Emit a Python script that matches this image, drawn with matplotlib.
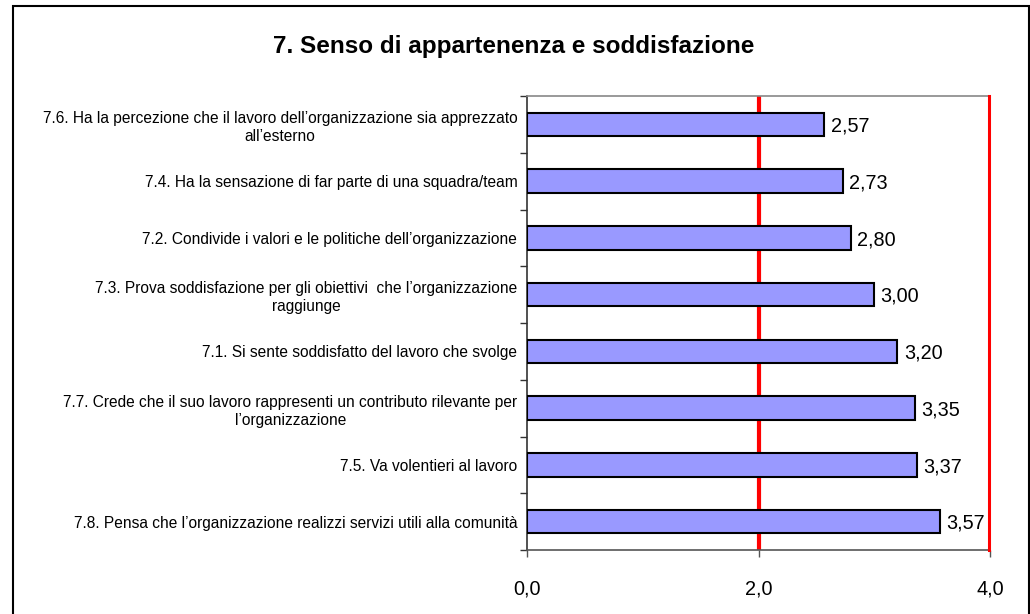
import matplotlib
matplotlib.use("Agg")
import matplotlib.pyplot as plt
from matplotlib.patches import Rectangle
import numpy as np

plt.rcParams['font.family'] = ['Liberation Sans', 'DejaVu Sans']

title = "7. Senso di appartenenza e soddisfazione"
categories = [
    "7.6. Ha la percezione che il lavoro dell’organizzazione sia apprezzato\nall’esterno",
    "7.4. Ha la sensazione di far parte di una squadra/team",
    "7.2. Condivide i valori e le politiche dell’organizzazione",
    "7.3. Prova soddisfazione per gli obiettivi  che l’organizzazione\nraggiunge",
    "7.1. Si sente soddisfatto del lavoro che svolge",
    "7.7. Crede che il suo lavoro rappresenti un contributo rilevante per\nl’organizzazione",
    "7.5. Va volentieri al lavoro",
    "7.8. Pensa che l’organizzazione realizzi servizi utili alla comunità",
]
values = [2.57, 2.73, 2.80, 3.00, 3.20, 3.35, 3.37, 3.57]
xticks = [0.0, 2.0, 4.0]
xtick_labels = ["0,0", "2,0", "4,0"]
ref_lines = [2.0, 4.0]

fig = plt.figure(figsize=(10.30, 6.14), dpi=100)
ax = fig.add_axes([527/1030, 1-550/614, (990-527)/1030, (550-96)/614])

n = len(categories)
y = np.arange(n)
ax.barh(y, values, height=0.41, color='#9999FF', edgecolor='black', linewidth=1.5, zorder=3)
ax.set_ylim(n - 0.5, -0.5)
ax.set_xlim(0, 4)

ax.axvline(ref_lines[0], color='#FF0000', lw=3, zorder=2)
ax.axvline(ref_lines[1] - 0.008, color='#FF0000', lw=2.2, zorder=4, clip_on=False)

for yi, v in zip(y, values):
    ax.text(v + 0.055, yi + 0.03, f"{v:.2f}".replace('.', ','), va='center', ha='left',
            fontsize=14.3, color='black', zorder=5)

ax.set_yticks(y)
ax.set_yticklabels(categories, fontsize=11.2, multialignment='center', linespacing=1.25)
ax.tick_params(axis='y', which='major', length=0, pad=7)
ax.set_yticks(np.arange(n + 1) - 0.5, minor=True)
ax.tick_params(axis='y', which='minor', length=5, width=1, color='#333333', direction='out')

ax.set_xticks(xticks)
ax.set_xticklabels(xtick_labels, fontsize=14.3)
ax.tick_params(axis='x', length=5, width=1, color='#555555', pad=16)

ax.spines['left'].set_color('#333333')
ax.spines['bottom'].set_color('#555555')
ax.spines['top'].set_color('#888888')
ax.spines['right'].set_color('#888888')
for s in ax.spines.values():
    s.set_linewidth(1.2)

fig.text(514/1030, 1-47/614, title, ha='center', va='center', fontsize=17.5, fontweight='bold')

border = Rectangle((13/1030, -0.05), (1029-13)/1030, 1.05 - 6/614, transform=fig.transFigure,
                   fill=False, edgecolor='black', linewidth=1.5, clip_on=False)
fig.patches.append(border)

fig.savefig("out.png", dpi=100)
